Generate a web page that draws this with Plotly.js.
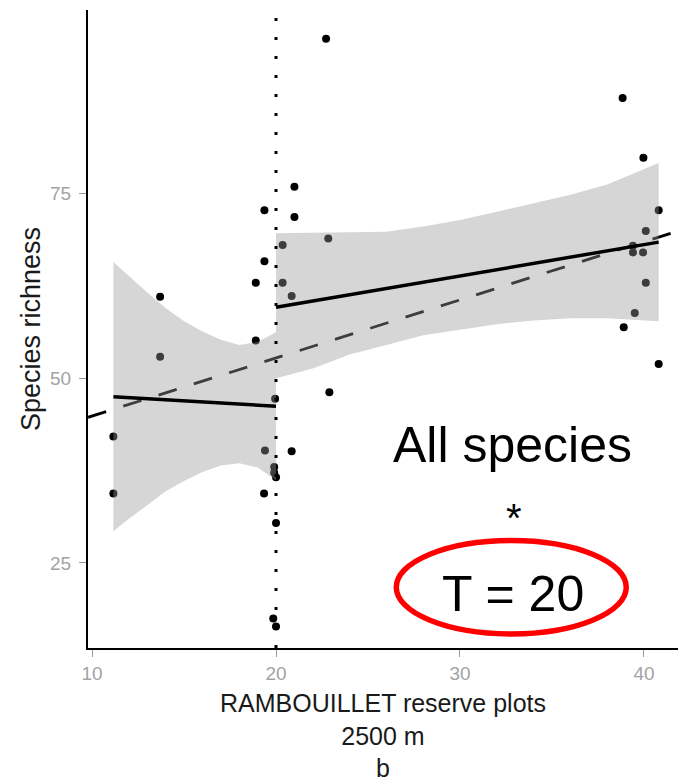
<!DOCTYPE html>
<html>
<head>
<meta charset="utf-8">
<script src="https://cdn.plot.ly/plotly-3.0.1.min.js"></script>
<style>
html, body { margin: 0; padding: 0; background: #ffffff; }
#chart { width: 678px; height: 782px; }
</style>
</head>
<body>
<div id="chart"></div>
<script>
// ---- data ----
const plotX = [11.16, 11.16, 13.7, 13.7, 18.9, 18.9, 19.37, 19.37, 19.4, 19.35,
               19.95, 19.9, 19.9, 20.0, 20.0, 19.85, 20.0, 20.36, 20.36, 20.85,
               20.85, 21.0, 21.0, 22.72, 22.84, 22.9, 38.84, 38.9, 39.4, 39.4,
               39.5, 39.97, 39.95, 40.1, 40.1, 40.8, 40.8];
const plotY = [42.1, 34.4, 61.0, 52.9, 62.9, 55.1, 72.7, 65.8, 40.2, 34.4,
               47.2, 38.0, 37.2, 36.6, 30.4, 17.5, 16.4, 68.0, 62.9, 61.1,
               40.1, 75.9, 71.8, 95.9, 68.9, 48.1, 87.9, 56.9, 67.9, 67.0,
               58.8, 79.8, 67.0, 69.9, 62.9, 72.7, 51.9];

// overall fit (dashed)
const overallX = [9.78, 41.85];
const overallY = [44.7, 69.9];

// fit below threshold
const fitBelowX = [11.16, 20.0];
const fitBelowY = [47.5, 46.2];
const ribBelowX = [11.16, 12, 13, 14, 15, 16, 17, 18, 19, 20];
const ribBelowHi = [65.7, 63.8, 61.6, 59.5, 57.7, 56.3, 55.2, 54.5, 54.9, 56.2];
const ribBelowLo = [29.3, 31.0, 32.8, 34.7, 36.1, 37.3, 38.2, 38.5, 37.9, 36.2];

// fit above threshold
const fitAboveX = [20.0, 40.8];
const fitAboveY = [59.6, 68.4];
const ribAboveX = [20, 22, 24, 26, 28, 30, 32, 34, 36, 38, 40.8];
const ribAboveHi = [69.6, 69.7, 69.7, 69.8, 70.5, 71.4, 72.5, 73.6, 74.8, 76.2, 79.1];
const ribAboveLo = [50.0, 51.3, 53.2, 54.5, 55.8, 56.6, 57.3, 57.8, 58.1, 58.1, 57.7];

const threshold = 20;
const xTicks = [10, 20, 30, 40];
const yTicks = [25, 50, 75];
const xRange = [9.78, 41.85];
const yRange = [13.5, 99.8];

// ---- build traces ----
function ribbon(x, hi, lo) {
  return {
    x: x.concat(x.slice().reverse()),
    y: hi.concat(lo.slice().reverse()),
    type: 'scatter', mode: 'lines', fill: 'toself',
    fillcolor: 'rgba(153,153,153,0.4)',
    line: { width: 0, color: 'rgba(0,0,0,0)' },
    hoverinfo: 'skip', showlegend: false
  };
}

const traces = [
  { x: plotX, y: plotY, type: 'scatter', mode: 'markers',
    marker: { color: '#000000', size: 8 }, showlegend: false },
  { x: overallX, y: overallY, type: 'scatter', mode: 'lines',
    line: { color: '#000000', width: 2.8, dash: '19px,18px' }, showlegend: false },
  ribbon(ribBelowX, ribBelowHi, ribBelowLo),
  ribbon(ribAboveX, ribAboveHi, ribAboveLo),
  { x: fitBelowX, y: fitBelowY, type: 'scatter', mode: 'lines',
    line: { color: '#000000', width: 3.5 }, showlegend: false },
  { x: fitAboveX, y: fitAboveY, type: 'scatter', mode: 'lines',
    line: { color: '#000000', width: 3.5 }, showlegend: false },
  { x: [threshold, threshold], y: yRange, type: 'scatter', mode: 'lines',
    line: { color: '#000000', width: 3, dash: '3px,16px' }, showlegend: false }
];

const FONT = '"Liberation Sans", Arial, sans-serif';

const layout = {
  width: 678, height: 782,
  margin: { l: 88, r: 0, t: 10, b: 134 },
  paper_bgcolor: '#ffffff', plot_bgcolor: '#ffffff',
  showlegend: false,
  font: { family: FONT, color: '#1a1a1a' },
  xaxis: {
    range: xRange, tickvals: xTicks, ticktext: xTicks.map(String),
    showgrid: false, zeroline: false, automargin: false,
    showline: true, linecolor: '#000000', linewidth: 2,
    ticks: 'outside', ticklen: 7, tickwidth: 1, tickcolor: '#9a9a9a',
    tickfont: { family: FONT, size: 19, color: '#a3a3a3' },
    title: { text: 'RAMBOUILLET reserve plots<br>2500 m<br>b',
             font: { family: FONT, size: 25, color: '#1a1a1a' } }
  },
  yaxis: {
    range: yRange, tickvals: yTicks, ticktext: yTicks.map(String),
    showgrid: false, zeroline: false, automargin: false,
    showline: true, linecolor: '#000000', linewidth: 2,
    ticks: 'outside', ticklen: 7, tickwidth: 1, tickcolor: '#9a9a9a',
    ticklabelstandoff: 4,
    tickfont: { family: FONT, size: 19, color: '#a3a3a3' },
    title: { text: 'Species richness',
             font: { family: FONT, size: 27, color: '#1a1a1a' }, standoff: 2 }
  },
  annotations: [
    { text: 'All species', xref: 'paper', yref: 'paper', x: 0.7203, y: 0.318,
      xanchor: 'center', yanchor: 'middle', showarrow: false,
      font: { family: FONT, size: 50, color: '#000000' } },
    { text: '*', xref: 'paper', yref: 'paper', x: 0.722, y: 0.204,
      xanchor: 'center', yanchor: 'middle', showarrow: false,
      font: { family: FONT, size: 40, color: '#000000' } },
    { text: 'T = 20', xref: 'paper', yref: 'paper', x: 0.7195, y: 0.0851,
      xanchor: 'center', yanchor: 'middle', showarrow: false,
      font: { family: FONT, size: 50, color: '#000000' } }
  ],
  shapes: [
    { type: 'circle', xref: 'paper', yref: 'paper',
      x0: 0.5225, x1: 0.9123, y0: 0.0221, y1: 0.1685,
      line: { color: '#ff0000', width: 5.5 }, fillcolor: 'rgba(0,0,0,0)' }
  ]
};

Plotly.newPlot('chart', traces, layout, { displayModeBar: false, staticPlot: true });
</script>
</body>
</html>
